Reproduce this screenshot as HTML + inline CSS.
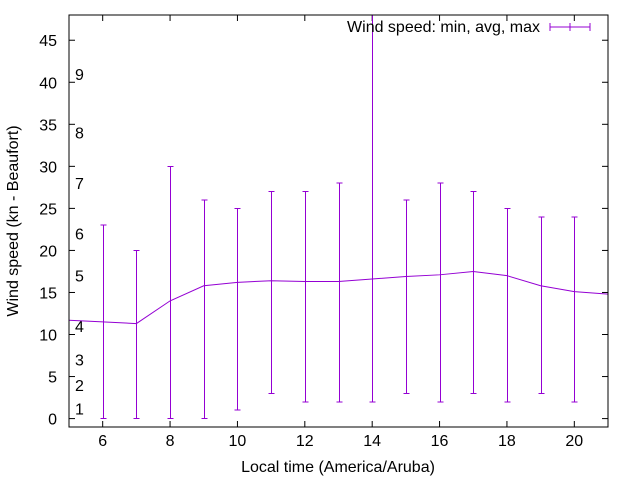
<!DOCTYPE html>
<html><head><meta charset="utf-8"><style>
body{margin:0;background:#fff;}
svg text{font-family:"Liberation Sans",sans-serif;font-size:16px;fill:#000;}
</style></head><body>
<svg id="chart" width="640" height="480" xmlns="http://www.w3.org/2000/svg">
<rect width="640" height="480" fill="#fff"/>
<g id="grid"></g>
<g id="marks"></g>
<rect x="69" y="15" width="539" height="412" fill="none" stroke="#000" stroke-width="1"/>
<text x="338" y="472" text-anchor="middle">Local time (America/Aruba)</text>
<text transform="translate(18,221) rotate(-90)" text-anchor="middle">Wind speed (kn - Beaufort)</text>
<g>
<text x="540" y="32" text-anchor="end">Wind speed: min, avg, max</text>
<line x1="550" y1="27" x2="590" y2="27" stroke="#9400d3"/>
<line x1="550" y1="23" x2="550" y2="31" stroke="#9400d3"/>
<line x1="590" y1="23" x2="590" y2="31" stroke="#9400d3"/>
<line x1="570" y1="23" x2="570" y2="31" stroke="#9400d3"/>
</g>
</svg>
<script>
const hours=[5,6,7,8,9,10,11,12,13,14,15,16,17,18,19,20,21];
const avgSpeed=[11.7,11.5,11.3,14,15.8,16.2,16.4,16.3,16.3,16.6,16.9,17.1,17.5,17,15.8,15.1,14.8];
const barHours=[6,7,8,9,10,11,12,13,14,15,16,17,18,19,20];
const minSpeed=[0,0,0,0,1,3,2,2,2,3,2,3,2,3,2];
const maxSpeed=[23,20,30,26,25,27,27,28,48,26,28,27,25,24,24];
const xTicks=[6,8,10,12,14,16,18,20];
const yTicks=[0,5,10,15,20,25,30,35,40,45];
const beaufortLabels=["1","2","3","4","5","6","7","8","9"];
const beaufortLevels=[1.2,4,7,11,17,22,28,34,41];
const NS="http://www.w3.org/2000/svg";
const L=69,R=608,T=15,B=427,X0=5,X1=21,Y0=-1,Y1=48;
const xs=v=>L+(v-X0)/(X1-X0)*(R-L);
const ys=v=>B-(v-Y0)/(Y1-Y0)*(B-T);
const clipY=v=>Math.max(T,ys(v));
const grid=document.getElementById('grid'),marks=document.getElementById('marks');
function mk(tag,attrs,parent){const e=document.createElementNS(NS,tag);for(const k in attrs)e.setAttribute(k,attrs[k]);parent.appendChild(e);return e;}
xTicks.forEach(v=>{
 const x=xs(v);
 const t1=mk('line',{x1:x,y1:B,x2:x,y2:B-6,stroke:'#000'},grid);
 
 
 mk('line',{x1:x,y1:T,x2:x,y2:T+6,stroke:'#000'},grid);
 const tx=mk('text',{x:x,y:B+19,'text-anchor':'middle'},grid);
 
 
 tx.textContent=v;
});
yTicks.forEach(v=>{
 const y=ys(v);
 const t1=mk('line',{x1:L,y1:y,x2:L+6,y2:y,stroke:'#000'},grid);
 
 
 mk('line',{x1:R,y1:y,x2:R-6,y2:y,stroke:'#000'},grid);
 const tx=mk('text',{x:L-12,y:y+6,'text-anchor':'end'},grid);
 
 
 tx.textContent=v;
});
beaufortLabels.forEach((s,i)=>{
 const tx=mk('text',{x:75,y:ys(beaufortLevels[i])+6},grid);
 
 
 tx.textContent=s;
});
const pl=mk('polyline',{points:hours.map((h,i)=>xs(h)+','+ys(avgSpeed[i])).join(' '),fill:'none',stroke:'#9400d3','stroke-width':1},marks);


barHours.forEach((h,i)=>{
 const x=Math.round(xs(h))+0.5,y1=ys(minSpeed[i]),y2=clipY(maxSpeed[i]);
 const g=mk('g',{stroke:'#9400d3','stroke-width':1,'shape-rendering':'crispEdges'},marks);
 
 
 mk('line',{x1:x,y1:y1,x2:x,y2:y2},g);
 mk('line',{x1:x-3,y1:y1,x2:x+3,y2:y1},g);
 if(maxSpeed[i]<=Y1)mk('line',{x1:x-3,y1:y2,x2:x+3,y2:y2},g);
});
</script>
</body></html>
